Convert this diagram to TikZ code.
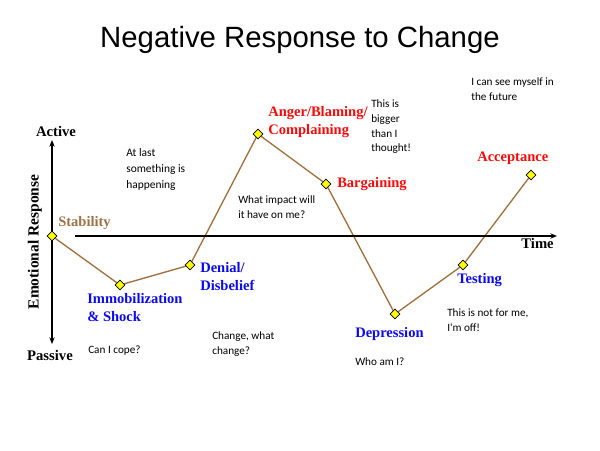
\documentclass[tikz,border=0pt]{standalone}
\usepackage{fontspec}
\setmainfont{Liberation Serif}
\newfontfamily\titlefont{Liberation Sans}
\newfontfamily\notefont{Carlito}
\usetikzlibrary{shapes.geometric, arrows.meta, backgrounds}
\definecolor{curve}{RGB}{160,112,62}
\definecolor{stab}{RGB}{160,115,70}
\definecolor{low}{RGB}{10,10,240}
\definecolor{high}{RGB}{250,10,10}
\definecolor{marker}{RGB}{255,255,0}
\tikzset{
    stage/.style={diamond, draw=black, fill=marker, line width=0.5pt,
                  minimum size=7.5pt, inner sep=0pt},
    phase/.style={font=\fontsize{10.9}{13.5}\selectfont\bfseries, align=left, anchor=west, inner sep=0pt},
    lowphase/.style={phase, text=low},
    highphase/.style={phase, text=high},
    thought/.style={font=\notefont\fontsize{8.4}{11}\selectfont, align=left, anchor=west, inner sep=0pt},
    axislbl/.style={font=\fontsize{11}{13}\selectfont\bfseries, inner sep=0pt},
    axis/.style={line width=1.2pt, -{Stealth[length=5pt, width=4pt]}},
    pathline/.style={draw=curve, line width=1pt},
}
\begin{document}
\begin{tikzpicture}[x=0.75pt, y=-0.75pt]
  \useasboundingbox (0,0) rectangle (600,450);

  \node[font=\titlefont\fontsize{22}{26}\selectfont] (title) at (300,40) {Negative Response to Change};

  % axes
  \coordinate (ytop) at (52,140);
  \coordinate (ybot) at (52,344);
  \coordinate (xstart) at (75,236);
  \coordinate (xend) at (557,236);
  \draw[axis, {Stealth[length=5pt, width=4pt]}-{Stealth[length=5pt, width=4pt]}] (ybot) -- (ytop);
  \draw[axis] (xstart) -- (xend);
  \node[axislbl, anchor=south] (active) at (56,137) {Active};
  \node[axislbl] (passive) at (50,355) {Passive};
  \node[axislbl, font=\fontsize{11.6}{13}\selectfont\bfseries, rotate=90] (emo) at (35,242) {Emotional Response};
  \node[axislbl, anchor=east] (time) at (554,243) {Time};

  % stages
  \node[stage] (stability) at (52,236) {};
  \node[stage] (immobil) at (120,285) {};
  \node[stage] (denial) at (190,265) {};
  \node[stage] (anger) at (258,134) {};
  \node[stage] (bargain) at (326,184) {};
  \node[stage] (depress) at (395,314) {};
  \node[stage] (testing) at (463,265) {};
  \node[stage] (accept) at (531,175) {};

  \begin{scope}[on background layer]
    \draw[pathline] (stability.center) -- (immobil.center) -- (denial.center) -- (anger.center)
      -- (bargain.center) -- (depress.center) -- (testing.center) -- (accept.center);
  \end{scope}

  % stage names
  \node[phase, text=stab] (stabl) at (58,223) {Stability};
  \node[lowphase] (immobill) at (87,308) {Immobilization\\\& Shock};
  \node[lowphase] (deniall) at (200,277) {Denial/\\Disbelief};
  \node[highphase] (angerl) at (268,122) {Anger/Blaming/\\Complaining};
  \node[highphase] (bargainl) at (337,184) {Bargaining};
  \node[lowphase] (depressl) at (355,334) {Depression};
  \node[lowphase] (testingl) at (457,280) {Testing};
  \node[highphase] (acceptl) at (477,158) {Acceptance};

  % thoughts
  \node[thought, font=\notefont\fontsize{8.6}{12}\selectfont] (t1) at (126,170) {At last\\something is\\happening};
  \node[thought] (t2) at (88,351) {Can I cope?};
  \node[thought] (t3) at (212,344) {Change, what\\change?};
  \node[thought] (t4) at (238,207) {What impact will\\it have on me?};
  \node[thought] (t5) at (371,127) {This is\\bigger\\than I\\thought!};
  \node[thought] (t6) at (355,362) {Who am I?};
  \node[thought] (t7) at (447,320) {This is not for me,\\I'm off!};
  \node[thought] (t8) at (471,89) {I can see myself in\\the future};
\end{tikzpicture}
\end{document}
